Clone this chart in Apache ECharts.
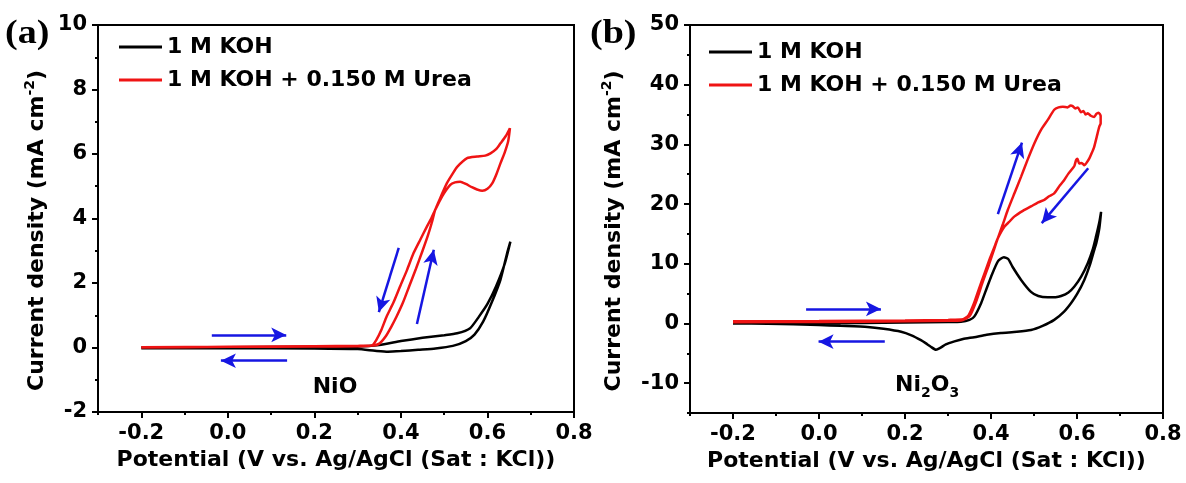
<!DOCTYPE html>
<html>
<head>
<meta charset="utf-8">
<script src="https://cdn.jsdelivr.net/npm/echarts@6/dist/echarts.min.js"></script>
<style>
  html, body { margin: 0; padding: 0; background: #fff; }
  #chart { width: 1186px; height: 483px; }
</style>
</head>
<body>
<div id="chart"></div>
<script>
// Axis tick labels
const potentialTicks = [-0.2, 0.0, 0.2, 0.4, 0.6, 0.8];
const nioCurrentTicks = [-2, 0, 2, 4, 6, 8, 10];
const ni2o3CurrentTicks = [-10, 0, 10, 20, 30, 40, 50];
const electrolytes = ['1 M KOH', '1 M KOH + 0.150 M Urea'];

// (a) NiO in 1 M KOH: anodic sweep to 0.65 V, then back to -0.2 V
const nioKohV = [-0.2, 0.0, 0.2, 0.3, 0.35, 0.40, 0.45, 0.50, 0.53, 0.56, 0.58, 0.60, 0.62, 0.64, 0.653,
                 0.645, 0.63, 0.61, 0.59, 0.57, 0.55, 0.52, 0.48, 0.44, 0.40, 0.37, 0.34, 0.30, 0.20, 0.0, -0.2];
const nioKohJ = [0.0, 0.01, 0.02, 0.03, 0.08, 0.20, 0.30, 0.38, 0.44, 0.60, 0.95, 1.35, 1.90, 2.60, 3.28,
                 2.90, 2.10, 1.40, 0.80, 0.40, 0.20, 0.05, -0.03, -0.07, -0.11, -0.13, -0.10, -0.05, -0.03, -0.02, -0.02];

// (a) NiO in 1 M KOH + 0.150 M urea
const nioUreaV = [-0.2, 0.0, 0.2, 0.3, 0.335, 0.35, 0.365, 0.378, 0.39, 0.405, 0.419, 0.435, 0.45, 0.463, 0.472, 0.479,
                  0.493, 0.506, 0.52, 0.53, 0.553, 0.576, 0.595, 0.607, 0.62, 0.63, 0.642, 0.652,
                  0.648, 0.64, 0.63, 0.62, 0.611, 0.60, 0.588, 0.576, 0.564, 0.55, 0.537, 0.525, 0.514, 0.495, 0.479,
                  0.47, 0.46, 0.445, 0.429, 0.414, 0.398, 0.383, 0.367, 0.355, 0.343, 0.333, 0.30, 0.20, 0.0, -0.2];
const nioUreaJ = [0.0, 0.02, 0.04, 0.05, 0.06, 0.12, 0.35, 0.65, 0.96, 1.40, 1.89, 2.45, 3.00, 3.50, 3.90, 4.26,
                  4.70, 5.09, 5.40, 5.60, 5.87, 5.92, 5.95, 6.02, 6.15, 6.33, 6.55, 6.80,
                  6.40, 6.05, 5.71, 5.35, 5.09, 4.92, 4.86, 4.90, 4.97, 5.07, 5.14, 5.12, 5.04, 4.68, 4.26,
                  4.00, 3.75, 3.35, 2.92, 2.40, 1.89, 1.40, 0.96, 0.55, 0.23, 0.06, 0.04, 0.03, 0.02, 0.01];

// (b) Ni2O3 in 1 M KOH
const ni2o3KohV = [-0.2, 0.0, 0.2, 0.3, 0.33, 0.35, 0.361, 0.377, 0.39, 0.40, 0.416, 0.43, 0.44, 0.45, 0.47, 0.493,
                   0.51, 0.532, 0.55, 0.563, 0.58, 0.594, 0.61, 0.625, 0.637, 0.644, 0.652, 0.656,
                   0.652, 0.645, 0.64, 0.63, 0.617, 0.60, 0.586, 0.57, 0.547, 0.52, 0.493, 0.46, 0.423, 0.39, 0.361,
                   0.335, 0.315, 0.295, 0.282, 0.272, 0.26, 0.248, 0.237, 0.215, 0.191, 0.15, 0.113, 0.05, 0.0, -0.119, -0.2];
const ni2o3KohJ = [0.0, 0.05, 0.15, 0.25, 0.3, 0.6, 1.14, 3.4, 5.9, 7.8, 10.4, 11.1, 10.8, 9.5, 7.3, 5.3,
                   4.6, 4.38, 4.4, 4.6, 5.2, 6.2, 7.9, 10.1, 12.5, 14.5, 17.0, 18.7,
                   16.0, 13.5, 12.3, 9.8, 7.3, 4.9, 3.4, 2.0, 0.6, -0.4, -1.1, -1.4, -1.6, -1.9, -2.3,
                   -2.6, -3.0, -3.5, -4.1, -4.4, -3.9, -3.3, -2.8, -2.0, -1.4, -0.9, -0.6, -0.4, -0.25, -0.05, 0.0];

// (b) Ni2O3 in 1 M KOH + 0.150 M urea
const ni2o3UreaV = [-0.2, 0.0, 0.2, 0.3, 0.33, 0.35, 0.365, 0.38, 0.395, 0.408, 0.416,
                    0.428, 0.439, 0.455, 0.47, 0.485, 0.501, 0.516, 0.532, 0.547, 0.557, 0.567, 0.578, 0.585, 0.59,
                    0.596, 0.602, 0.609, 0.615, 0.62, 0.625, 0.632, 0.64, 0.645, 0.65, 0.655,
                    0.655, 0.652, 0.646, 0.64, 0.634, 0.629, 0.623, 0.617, 0.611, 0.605, 0.601, 0.598, 0.594, 0.59,
                    0.58, 0.57, 0.56, 0.547, 0.535, 0.524, 0.51, 0.493, 0.475, 0.454, 0.442, 0.431, 0.416,
                    0.41, 0.398, 0.386, 0.372, 0.36, 0.348, 0.335, 0.30, 0.20, 0.0, -0.2];
const ni2o3UreaJ = [0.2, 0.25, 0.35, 0.45, 0.5, 1.2, 3.6, 6.8, 9.8, 12.6, 14.3,
                    16.7, 19.0, 21.9, 24.6, 27.4, 30.2, 32.4, 34.1, 35.8, 36.2, 36.3, 36.2, 36.5, 36.4,
                    36.0, 36.2, 35.4, 35.6, 35.0, 35.2, 34.8, 34.6, 35.1, 35.3, 34.8,
                    33.5, 33.0, 31.3, 29.6, 28.5, 27.7, 27.0, 26.5, 26.9, 26.8, 27.6, 27.4, 26.4, 26.0,
                    25.1, 24.0, 23.1, 21.8, 21.3, 20.7, 20.3, 19.6, 18.9, 17.9, 17.0, 16.2, 14.3,
                    13.2, 11.0, 8.6, 5.8, 3.3, 1.4, 0.7, 0.6, 0.5, 0.4, 0.35];

// Sweep-direction arrows, [start, end] in (potential, current) coordinates
const nioArrows = [
  [[-0.037, 0.39], [0.135, 0.39]],
  [[0.137, -0.41], [-0.016, -0.41]],
  [[0.395, 3.09], [0.349, 1.10]],
  [[0.437, 0.73], [0.476, 3.03]]
];
const ni2o3Arrows = [
  [[-0.030, 2.43], [0.144, 2.43]],
  [[0.153, -3.05], [-0.001, -3.05]],
  [[0.416, 18.3], [0.472, 30.3]],
  [[0.626, 26.0], [0.518, 16.8]]
];

const FONT = 'DejaVu Sans';
const BLACK = '#000000';
const RED = '#ef1414';
const BLUE = '#1616e2';

const zip = (xs, ys) => xs.map((x, i) => [x, ys[i]]);

const labelStyle = { fontFamily: FONT, fontWeight: 'bold', fontSize: 21, color: '#000' };
const nameStyle = { fontFamily: FONT, fontWeight: 'bold', fontSize: 22, color: '#000' };
const axisLine = { show: true, onZero: false, lineStyle: { color: '#000', width: 2 } };
const tickLine = { color: '#000', width: 2 };

// Short ticks every minor step, drawn with the axis line
function minorXAxis(gridIndex) {
  return {
    type: 'value', gridIndex, position: 'bottom', min: -0.3, max: 0.8, interval: 0.1,
    axisLine, axisTick: { show: true, length: 3, lineStyle: tickLine },
    axisLabel: { show: false }, splitLine: { show: false }
  };
}
// Long ticks and labels at the labelled potentials
function majorXAxis(gridIndex) {
  return {
    type: 'value', gridIndex, position: 'bottom', min: -0.3, max: 0.8, interval: 0.1,
    axisLine: { show: false, onZero: false },
    axisTick: { show: true, length: 6, customValues: potentialTicks, lineStyle: tickLine },
    axisLabel: Object.assign({ customValues: potentialTicks, margin: 11, formatter: v => v.toFixed(1) }, labelStyle),
    splitLine: { show: false },
    name: 'Potential (V vs. Ag/AgCl (Sat : KCl))', nameLocation: 'middle', nameGap: 37,
    nameTextStyle: nameStyle
  };
}
const yName = 'Current density (mA cm{sup|-2})';
const yNameStyle = Object.assign({
  padding: [0, 24, 0, 0],
  rich: { sup: { fontFamily: FONT, fontWeight: 'bold', fontSize: 14, color: '#000', padding: [0, 0, 14, 0] } }
}, nameStyle);

function lineSeries(name, xs, ys, color, xi, yi) {
  return {
    name, type: 'line', xAxisIndex: xi, yAxisIndex: yi, data: zip(xs, ys),
    symbol: 'none', showSymbol: false, smooth: 0.2,
    lineStyle: { color, width: 2.5 }, itemStyle: { color }
  };
}
function arrowSeries(arrows, xi, yi) {
  return {
    name: 'sweep', type: 'line', xAxisIndex: xi, yAxisIndex: yi, data: [], silent: true,
    markLine: {
      silent: true, symbol: ['none', 'arrow'], symbolSize: [11, 15],
      label: { show: false },
      lineStyle: { color: BLUE, width: 2.5, type: 'solid' },
      emphasis: { disabled: true },
      data: arrows.map(a => [{ coord: a[0] }, { coord: a[1] }])
    }
  };
}

const legendBase = {
  data: electrolytes, orient: 'vertical', icon: 'rect', itemWidth: 43, itemHeight: 3, itemGap: 11, padding: 0,
  selectedMode: false, textStyle: { fontFamily: FONT, fontWeight: 'bold', fontSize: 22, color: '#000' }
};

const option = {
  animation: false,
  backgroundColor: '#ffffff',
  grid: [
    { left: 98, top: 25, width: 476, height: 387, show: true, borderColor: '#000', borderWidth: 2, backgroundColor: 'transparent' },
    { left: 690, top: 25, width: 473, height: 388, show: true, borderColor: '#000', borderWidth: 2, backgroundColor: 'transparent' }
  ],
  legend: [
    Object.assign({ left: 119, top: 36 }, legendBase),
    Object.assign({ left: 709, top: 41 }, legendBase)
  ],
  xAxis: [minorXAxis(0), majorXAxis(0), minorXAxis(1), majorXAxis(1)],
  yAxis: [
    {
      type: 'value', gridIndex: 0, position: 'left', min: -2, max: 10, interval: 2,
      axisLine, axisTick: { show: true, length: 6, lineStyle: tickLine },
      minorTick: { show: true, splitNumber: 2, length: 3, lineStyle: tickLine },
      axisLabel: Object.assign({ margin: 11 }, labelStyle),
      splitLine: { show: false }, minorSplitLine: { show: false },
      name: yName, nameLocation: 'middle', nameGap: 47, nameTextStyle: yNameStyle
    },
    {
      type: 'value', gridIndex: 1, position: 'left', min: -15, max: 50, interval: 5,
      axisLine, axisTick: { show: true, length: 3, lineStyle: tickLine },
      axisLabel: { show: false }, splitLine: { show: false }
    },
    {
      type: 'value', gridIndex: 1, position: 'left', min: -15, max: 50, interval: 5,
      axisLine: { show: false, onZero: false },
      axisTick: { show: true, length: 6, customValues: ni2o3CurrentTicks, lineStyle: tickLine },
      axisLabel: Object.assign({ customValues: ni2o3CurrentTicks, margin: 11 }, labelStyle),
      splitLine: { show: false },
      name: yName, nameLocation: 'middle', nameGap: 62, nameTextStyle: yNameStyle
    }
  ],
  series: [
    lineSeries(electrolytes[0], nioKohV, nioKohJ, BLACK, 1, 0),
    lineSeries(electrolytes[1], nioUreaV, nioUreaJ, RED, 1, 0),
    arrowSeries(nioArrows, 1, 0),
    lineSeries(electrolytes[0], ni2o3KohV, ni2o3KohJ, BLACK, 3, 2),
    lineSeries(electrolytes[1], ni2o3UreaV, ni2o3UreaJ, RED, 3, 2),
    arrowSeries(ni2o3Arrows, 3, 2)
  ],
  graphic: [
    { type: 'text', x: 5, y: 17, scaleX: 1.12, style: { text: '(a)', font: 'bold 34px "Liberation Serif"', fill: '#000', textVerticalAlign: 'top' } },
    { type: 'text', x: 590, y: 17, scaleX: 1.12, style: { text: '(b)', font: 'bold 34px "Liberation Serif"', fill: '#000', textVerticalAlign: 'top' } },
    { type: 'text', x: 335, y: 387, style: { text: 'NiO', font: 'bold 22px "DejaVu Sans"', fill: '#000', textAlign: 'center', textVerticalAlign: 'middle' } },
    {
      type: 'text', x: 895, y: 385,
      style: {
        text: 'Ni{sub|2}O{sub|3}', font: 'bold 22px "DejaVu Sans"', fill: '#000',
        textAlign: 'left', textVerticalAlign: 'middle',
        rich: { sub: { font: 'bold 14px "DejaVu Sans"', fill: '#000', padding: [16, 0, 0, 0] } }
      }
    }
  ]
};

const chart = echarts.init(document.getElementById('chart'), null, { renderer: 'canvas' });
chart.setOption(option);
</script>
</body>
</html>
